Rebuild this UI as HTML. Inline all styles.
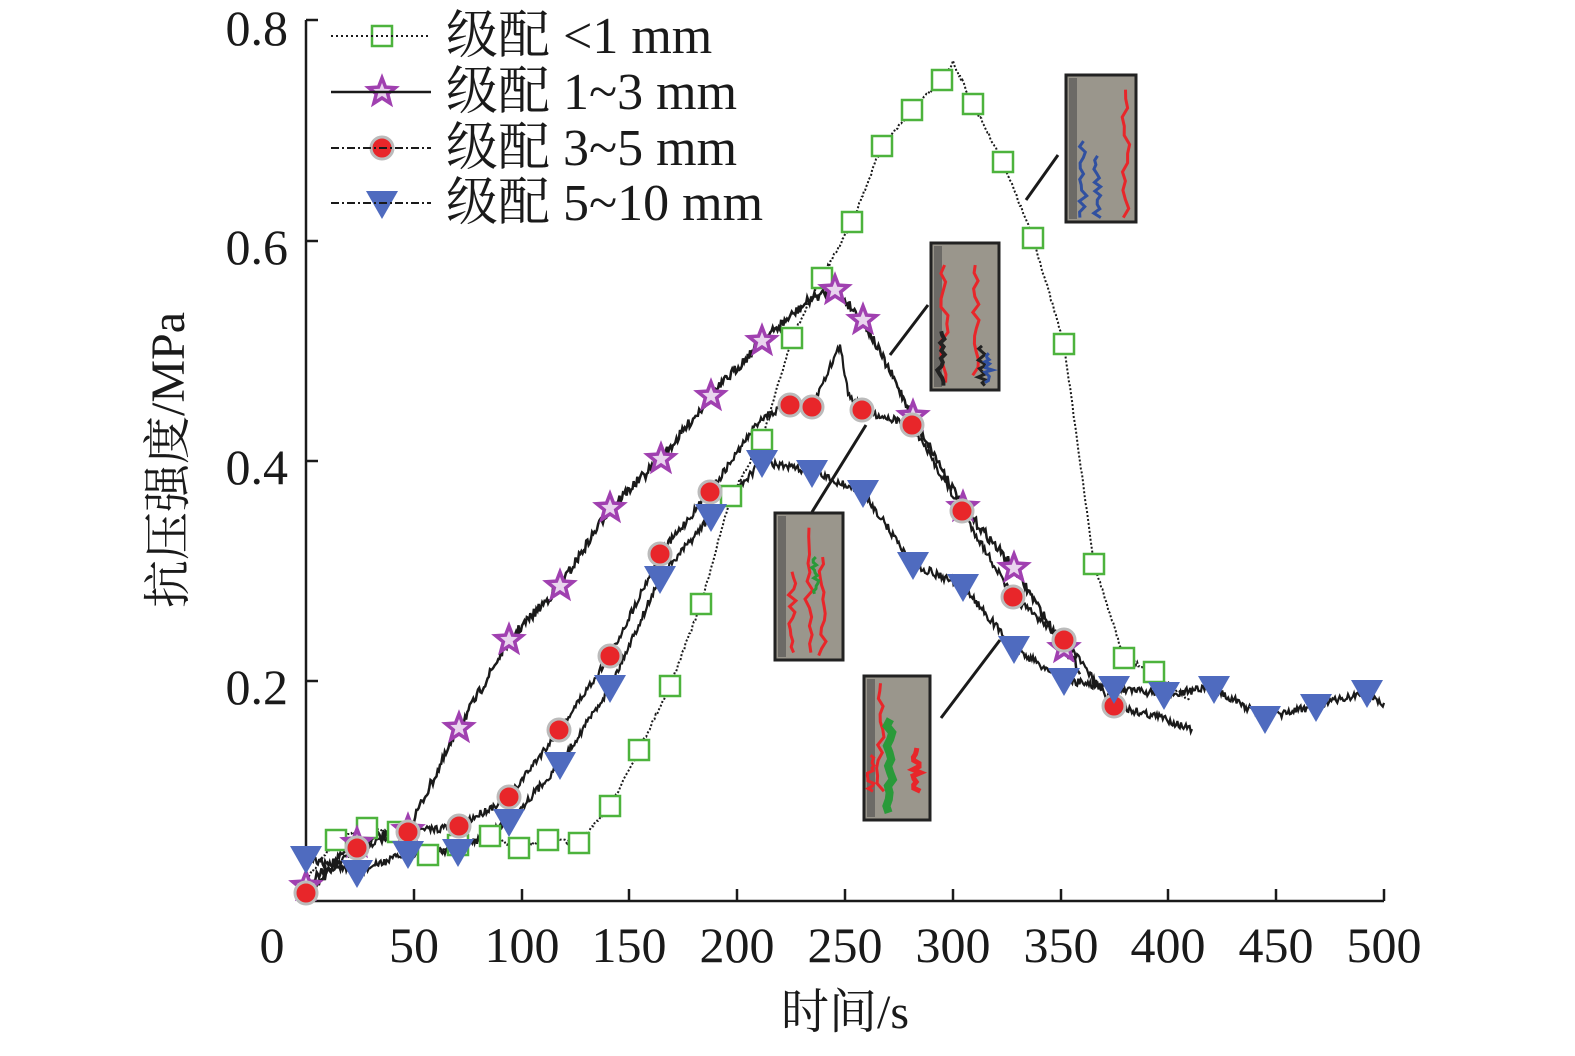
<!DOCTYPE html>
<html><head><meta charset="utf-8"><style>
html,body{margin:0;padding:0;background:#fff}
svg text{font-family:"Liberation Serif","Noto Serif CJK SC",serif;fill:#1a1a1a}
</style></head><body>
<svg id="s" width="1575" height="1051" viewBox="0 0 1575 1051" xmlns="http://www.w3.org/2000/svg">
<g id="lines"></g>
<path d="M306,20 V901 H1384" fill="none" stroke="#1a1a1a" stroke-width="2.5"/>
<g stroke="#1a1a1a" stroke-width="2.5">
<line x1="306" y1="20" x2="318" y2="20"/><line x1="306" y1="241" x2="318" y2="241"/>
<line x1="306" y1="461" x2="318" y2="461"/><line x1="306" y1="681" x2="318" y2="681"/>
<line x1="414" y1="901" x2="414" y2="889"/><line x1="522" y1="901" x2="522" y2="889"/>
<line x1="629" y1="901" x2="629" y2="889"/><line x1="737" y1="901" x2="737" y2="889"/>
<line x1="845" y1="901" x2="845" y2="889"/><line x1="953" y1="901" x2="953" y2="889"/>
<line x1="1061" y1="901" x2="1061" y2="889"/><line x1="1168" y1="901" x2="1168" y2="889"/>
<line x1="1276" y1="901" x2="1276" y2="889"/><line x1="1384" y1="901" x2="1384" y2="889"/>
</g>
<g font-size="50" text-anchor="end">
<text x="288" y="45">0.8</text><text x="288" y="264">0.6</text>
<text x="288" y="484">0.4</text><text x="288" y="704">0.2</text>
</g>
<g font-size="50" text-anchor="middle">
<text x="272" y="962">0</text><text x="414" y="962">50</text><text x="522" y="962">100</text>
<text x="629" y="962">150</text><text x="737" y="962">200</text><text x="845" y="962">250</text>
<text x="953" y="962">300</text><text x="1061" y="962">350</text><text x="1168" y="962">400</text>
<text x="1276" y="962">450</text><text x="1384" y="962">500</text>
<text x="845" y="1028" font-size="48">时间/s</text>
</g>
<text font-size="48" text-anchor="middle" transform="translate(184,460) rotate(-90)">抗压强度/MPa</text>
<g id="insets"></g>
<g id="marks"></g>
<g stroke="#1a1a1a" fill="none">
<line x1="331" y1="36" x2="431" y2="36" stroke-width="2" stroke-dasharray="2,3"/>
<line x1="331" y1="92" x2="431" y2="92" stroke-width="2.5"/>
<line x1="331" y1="148" x2="431" y2="148" stroke-width="2" stroke-dasharray="8,3,2,3"/>
<line x1="331" y1="203" x2="431" y2="203" stroke-width="2" stroke-dasharray="8,3,2,3"/>
</g>
<g font-size="52">
<text x="446" y="53">级配 &lt;1 mm</text>
<text x="446" y="109">级配 1~3 mm</text>
<text x="446" y="165">级配 3~5 mm</text>
<text x="446" y="220">级配 5~10 mm</text>
</g>
</svg>
<script>
const NS="http://www.w3.org/2000/svg";
function el(p,t,a){const e=document.createElementNS(NS,t);for(const k in a)e.setAttribute(k,a[k]);p.appendChild(e);return e;}
let seed=7;function rnd(){seed=(seed*16807)%2147483647;return seed/2147483647;}
const A=[[306,880],[336,840],[367,828],[398,832],[428,855],[458,845],[490,836],[519,848],[548,840],[579,843],[610,806],[639,750],[670,686],[701,604],[731,496],[762,440],[792,338],[822,278],[852,222],[882,146],[912,110],[942,80],[953,62],[973,104],[1003,162],[1033,238],[1064,344],[1094,564],[1124,658],[1154,672],[1190,700]];
const B=[[306,886],[357,843],[408,830],[459,728],[509,640],[560,586],[610,508],[661,459],[711,396],[762,341],[812,298],[835,290],[863,320],[913,416],[963,507],[1014,568],[1064,648],[1080,670]];
const C=[[306,893],[357,848],[408,832],[459,826],[509,797],[559,730],[610,656],[660,554],[710,492],[761,418],[790,405],[812,407],[840,345],[848,392],[862,410],[912,425],[962,511],[1013,597],[1064,640],[1114,706],[1164,718],[1192,730]];
const D=[[306,858],[357,872],[408,853],[458,851],[509,821],[560,764],[610,687],[660,578],[711,516],[762,462],[812,472],[863,492],[913,564],[963,586],[1014,648],[1064,680],[1114,688],[1164,694],[1214,688],[1265,718],[1316,706],[1367,692],[1384,705]];
function noisy(pts,amp){let d="M"+pts[0][0]+","+pts[0][1];for(let i=0;i<pts.length-1;i++){const[a,b]=pts[i],[c,e]=pts[i+1];const n=Math.max(2,Math.round((c-a)/1.2));for(let k=1;k<=n;k++){const t=k/n;d+=" L"+(a+(c-a)*t).toFixed(1)+","+(b+(e-b)*t+(rnd()-0.5)*amp).toFixed(1);}}return d;}
const L=document.getElementById("lines");
el(L,"path",{d:noisy(A,4),fill:"none",stroke:"#1a1a1a","stroke-width":2,"stroke-dasharray":"2,2"});
el(L,"path",{d:noisy(B,10),fill:"none",stroke:"#1a1a1a","stroke-width":2.5});
el(L,"path",{d:noisy(C,8),fill:"none",stroke:"#1a1a1a","stroke-width":2.2});
el(L,"path",{d:noisy(D,8),fill:"none",stroke:"#1a1a1a","stroke-width":2.2});
const M=document.getElementById("marks");
function sq(g,x,y){el(g,"rect",{x:x-10,y:y-10,width:20,height:20,fill:"#fff",stroke:"#4db33d","stroke-width":2.5});}
function star(g,x,y){let p="";for(let i=0;i<10;i++){const r=i%2?6:14,a=-Math.PI/2+i*Math.PI/5;p+=(x+r*Math.cos(a)).toFixed(1)+","+(y+r*Math.sin(a)).toFixed(1)+" ";}el(g,"polygon",{points:p,fill:"#e9d4ee",stroke:"#a040b0","stroke-width":3.5});}
function circ(g,x,y){el(g,"circle",{cx:x,cy:y,r:11,fill:"#e8262a",stroke:"#bbb","stroke-width":3});}
function tri(g,x,y){el(g,"polygon",{points:(x-16)+","+(y-12)+" "+(x+16)+","+(y-12)+" "+x+","+(y+16),fill:"#4f6bbf"});}
A.forEach((p,i)=>{if(i>0&&i<A.length-1&&i!=22)sq(M,p[0],p[1]);});
B.forEach((p,i)=>{if(i!=10&&i<B.length-1)star(M,p[0],p[1]);});
C.forEach((p,i)=>{if(![9,12,13,20].includes(i)&&i<C.length-1)circ(M,p[0],p[1]);});
D.forEach((p,i)=>{if(i<D.length-1)tri(M,p[0],p[1]);});
sq(M,382,36);star(M,382,92);circ(M,382,148);tri(M,382,203);
const I=document.getElementById("insets");
function inset(x,y,w,h,lx1,ly1,lx2,ly2,cracks){
 el(I,"line",{x1:lx1,y1:ly1,x2:lx2,y2:ly2,stroke:"#1a1a1a","stroke-width":3});
 el(I,"rect",{x:x,y:y,width:w,height:h,fill:"#9a968c",stroke:"#222","stroke-width":3});
 el(I,"rect",{x:x+3,y:y+3,width:8,height:h-6,fill:"#6c6a66"});
 cracks.forEach(c=>{let d="M"+(x+c[1]*w)+","+(y+c[2]*h);for(let k=1;k<=14;k++){const t=c[2]+(c[3]-c[2])*k/14;d+=" L"+(x+(c[1]+(rnd()-0.5)*0.12)*w).toFixed(1)+","+(y+t*h).toFixed(1);}el(I,"path",{d:d,fill:"none",stroke:c[0],"stroke-width":c[4]||3});});
}
inset(1066,75,70,147,1026,200,1058,155,[["#e8262a",0.85,0.1,0.97],["#3050a0",0.25,0.45,0.97],["#3050a0",0.45,0.55,0.97]]);
inset(931,243,68,147,890,355,928,305,[["#e8262a",0.2,0.15,0.95],["#e8262a",0.65,0.15,0.9],["#222",0.15,0.6,0.97,4],["#222",0.75,0.7,0.97],["#3050a0",0.85,0.75,0.95]]);
inset(775,513,68,147,812,512,866,425,[["#e8262a",0.5,0.1,0.95],["#e8262a",0.7,0.3,0.97],["#2a9a3a",0.6,0.3,0.55],["#e8262a",0.25,0.4,0.95]]);
inset(864,676,66,144,941,718,1000,640,[["#e8262a",0.25,0.05,0.8],["#2a9a3a",0.4,0.3,0.95,8],["#e8262a",0.8,0.5,0.8,5],["#e8262a",0.1,0.55,0.8]]);
</script>
</body></html>
